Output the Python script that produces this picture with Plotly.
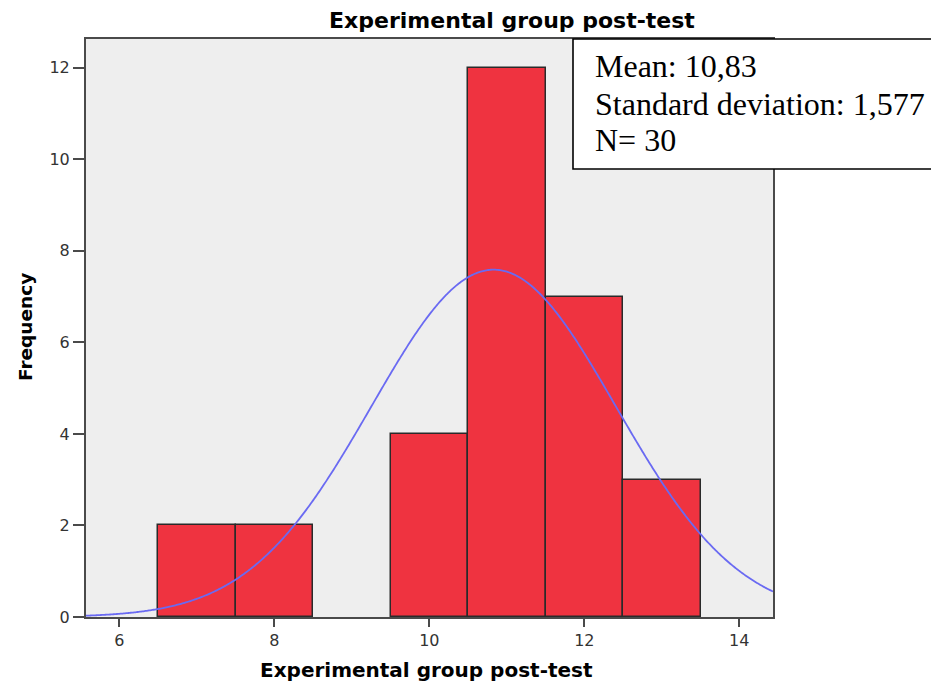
import numpy as np
import plotly.graph_objects as go

# Data
bin_centers = [7, 8, 10, 11, 12, 13]
frequencies = [2, 2, 4, 12, 7, 3]
bin_width = 1
mean_value = 10.83
std_dev = 1.577
n_total = 30
x_tick_vals = [6, 8, 10, 12, 14]
y_tick_vals = [0, 2, 4, 6, 8, 10, 12]
stats_lines = ["Mean: 10,83", "Standard deviation: 1,577", "N= 30"]

X_RANGE = [5.57, 14.435]
Y_RANGE = [0, 12.63]

# Fitted normal curve (defined by the shown mean, SD and N)
xc = np.linspace(X_RANGE[0], X_RANGE[1], 600)
yc = n_total * bin_width / (std_dev * np.sqrt(2 * np.pi)) * np.exp(-0.5 * ((xc - mean_value) / std_dev) ** 2)

OFF = 8  # page body margin
W, H = 939 - OFF, 683 - OFF
ML, MT = 86 - OFF, 39 - OFF
MR = W - (773 - OFF)
MB = H - (617 - OFF)
PW, PH = W - ML - MR, H - MT - MB

def px_x(px):
    return (px - OFF - ML) / PW

def px_y(py):
    return (H - MB - (py - OFF)) / PH

fig = go.Figure()
fig.add_trace(go.Bar(
    x=bin_centers, y=frequencies, width=bin_width,
    marker=dict(color="#EF3340", line=dict(color="#2a2a2a", width=1.5)),
    showlegend=False, hoverinfo="x+y",
))
fig.add_trace(go.Scatter(
    x=xc, y=yc, mode="lines",
    line=dict(color="#6A6AF2", width=1.8, simplify=False),
    showlegend=False, hoverinfo="skip",
))

axis_common = dict(
    showgrid=False, zeroline=False,
    showline=True, linecolor="#4a4a4a", linewidth=2, mirror=True,
    ticks="outside", tickcolor="#4a4a4a", tickwidth=2,
    tickfont=dict(family="DejaVu Sans", size=16, color="#333333"),
)

fig.update_layout(
    width=W, height=H,
    margin=dict(l=ML, r=MR, t=MT, b=MB, autoexpand=False),
    paper_bgcolor="white", plot_bgcolor="#EEEEEE",
    bargap=0,
    xaxis=dict(range=X_RANGE, tickvals=x_tick_vals, ticklen=8, **axis_common),
    yaxis=dict(range=Y_RANGE, tickvals=y_tick_vals, ticklen=11, **axis_common),
    title=dict(text="<b>Experimental group post-test</b>", xref="paper", x=px_x(512), xanchor="center",
               yref="container", y=1 - (20.5 - OFF) / H, yanchor="middle",
               font=dict(family="DejaVu Sans", size=22, color="black")),
)

annotations = [
    dict(text="<b>Experimental group post-test</b>", xref="paper", yref="paper",
         x=px_x(426), y=px_y(669.5), xanchor="center", yanchor="middle", showarrow=False,
         font=dict(family="DejaVu Sans", size=20, color="black")),
    dict(text="<b>Frequency</b>", xref="paper", yref="paper", textangle=-90,
         x=px_x(25), y=px_y(327), xanchor="center", yanchor="middle", showarrow=False,
         font=dict(family="DejaVu Sans", size=18.5, color="black")),
]
centers = [66.2, 104.2, 140.2]
for line, yc_px in zip(stats_lines, centers):
    annotations.append(dict(
        text=line, xref="paper", yref="paper", x=px_x(593), y=px_y(yc_px),
        xanchor="left", yanchor="middle", showarrow=False,
        font=dict(family="Liberation Serif", size=32, color="black"),
    ))
fig.update_layout(annotations=annotations)

fig.add_shape(type="rect", xref="paper", yref="paper",
              x0=px_x(573), x1=px_x(960), y0=px_y(169), y1=px_y(39),
              line=dict(color="black", width=1.6), fillcolor="white", layer="above")

fig.write_html("out.html")
